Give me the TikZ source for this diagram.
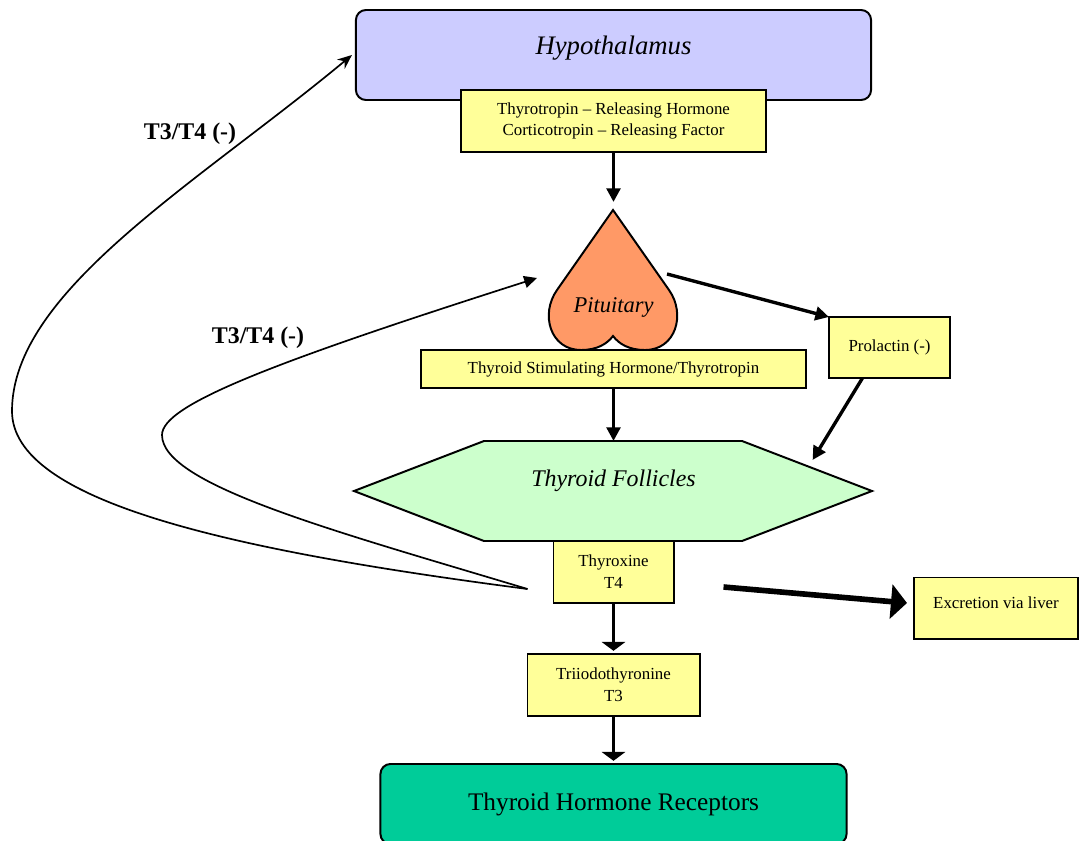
\documentclass[tikz,border=0pt]{standalone}
\usepackage{fontspec}
\setmainfont{Liberation Serif}
\usetikzlibrary{arrows.meta, positioning, calc}
\usepackage{xcolor}
\definecolor{hypfill}{HTML}{CCCCFF}
\definecolor{pitfill}{HTML}{FF9966}
\definecolor{folfill}{HTML}{CCFFCC}
\definecolor{recfill}{HTML}{00CC99}
\definecolor{boxfill}{HTML}{FFFF99}

\begin{document}
\begin{tikzpicture}[x=0.025cm, y=-0.025cm,
  ybox/.style={rectangle, draw=black, line width=1.4pt, fill=boxfill, inner sep=0pt,
    outer sep=0pt, align=center, font=\fontsize{12}{15.5}\selectfont},
  hypbox/.style={rectangle, draw=black, line width=1.4pt, fill=hypfill, rounded corners=0.25cm,
    minimum width=12.875cm, minimum height=2.25cm, inner sep=0pt, outer sep=0pt,
    text height=0.5cm, text depth=0.5cm, font=\fontsize{19}{22}\selectfont\itshape},
  recbox/.style={rectangle, draw=black, line width=1.4pt, fill=recfill, rounded corners=0.25cm,
    minimum width=11.65cm, minimum height=2.0cm, inner sep=0pt, outer sep=0pt,
    font=\fontsize{18}{21}\selectfont},
  ghost/.style={rectangle, inner sep=0pt, outer sep=0pt},
  arrow/.style={-{Triangle[length=0.34cm, width=0.34cm]}, line width=2.4pt},
  flatarrow/.style={-{Triangle[length=0.22cm, width=0.58cm]}, line width=2.4pt},
  bigarrow/.style={-{Triangle[length=0.4cm, width=0.85cm]}, line width=4pt},
  fbarrow/.style={line width=1.2pt},
  fblabel/.style={font=\fontsize{17}{20}\selectfont\bfseries}
]
\useasboundingbox (0,0) rectangle (1082,840);

% 下丘脑 (Hypothalamus)
\node (hyp) [hypbox] at (613.5,55) {Hypothalamus};
\node (trh) [ybox, minimum width=7.625cm, minimum height=1.55cm] at (613.5,121)
  {Thyrotropin -- Releasing Hormone\\Corticotropin -- Releasing Factor};

% 垂体 (Pituitary)
\draw [line width=1.4pt, fill=pitfill] (613,210) -- (557,290)
  .. controls (540,314) and (550,350) .. (581,350)
  .. controls (597,350) and (607,344) .. (613,336)
  .. controls (619,344) and (629,350) .. (645,350)
  .. controls (676,350) and (686,314) .. (669,290) -- cycle;
\node (pit) [ghost, minimum width=3.325cm, minimum height=3.5cm] at (613.5,280) {};
\node (pitlbl) [anchor=base, font=\fontsize{16}{19}\selectfont\itshape] at ($(pit.south)+(0,-38)$) {Pituitary};
\node (tsh) [ybox, minimum width=9.625cm, minimum height=0.95cm] at (613.5,369)
  {Thyroid Stimulating Hormone/Thyrotropin};
\node (prl) [ybox, minimum width=3.025cm, minimum height=1.525cm] at (889.5,347.5) {Prolactin (-)};

% 甲状腺滤泡 (Thyroid Follicles)
\draw [line width=1.4pt, fill=folfill] (354,491) -- (484,441) -- (742,441) -- (872,491)
  -- (742,541) -- (484,541) -- cycle;
\node (fol) [ghost, minimum width=12.95cm, minimum height=2.5cm, text height=10pt, text depth=16pt,
  font=\fontsize{17}{20}\selectfont\itshape] at (613.5,491) {Thyroid Follicles};

% 激素 (T4 / T3)
\node (t4) [ybox, minimum width=3.0cm, minimum height=1.55cm] at (613.5,572) {Thyroxine\\T4};
\node (t3) [ybox, minimum width=4.3cm, minimum height=1.55cm] at (613.5,685) {Triiodothyronine\\T3};
\node (exc) [ybox, minimum width=4.1cm, minimum height=1.525cm, text height=9pt, text depth=9pt]
  at (996,608) {Excretion via liver};
\node (rec) [recbox] at (613.5,804) {Thyroid Hormone Receptors};

% 箭头
\draw [arrow, shorten >=0.2cm] (trh) -- (pit);
\draw [arrow] (tsh) -- (fol);
\draw [arrow] ($(pit.east)+(-13,-6)$) -- (prl.north west);
\draw [arrow] ($(prl.south)+(-27,0)$) -- ($(fol.north east)+(-60,19)$);
\draw [flatarrow, shorten >=0.08cm] (t4) -- (t3);
\draw [flatarrow, shorten >=0.08cm] (t3) -- (rec);
\draw [bigarrow] ($(t4.east)+(50,15)$) -- ($(exc.west)+(-7,-5)$);

% 负反馈 (T3/T4)
\coordinate (fb) at ($(t4.west)+(-26,17)$);
\draw [fbarrow, -{Stealth[length=0.36cm, width=0.3cm]}] (fb)
  .. controls (227,550) and (12,501) .. (12,411)
  .. controls (12,291) and (198,183) .. ($(hyp.west)+(-4,0)$);
\draw [fbarrow, -{Triangle[length=0.32cm, width=0.3cm]}] (fb)
  .. controls (335,531) and (162,485) .. (162,435)
  .. controls (162,405) and (271,363) .. ($(pit.west)+(-10,-2)$);

% 标签
\node (fb1) [fblabel] at (190,134) {T3/T4 (-)};
\node (fb2) [fblabel] at (258,338) {T3/T4 (-)};

\end{tikzpicture}
\end{document}
